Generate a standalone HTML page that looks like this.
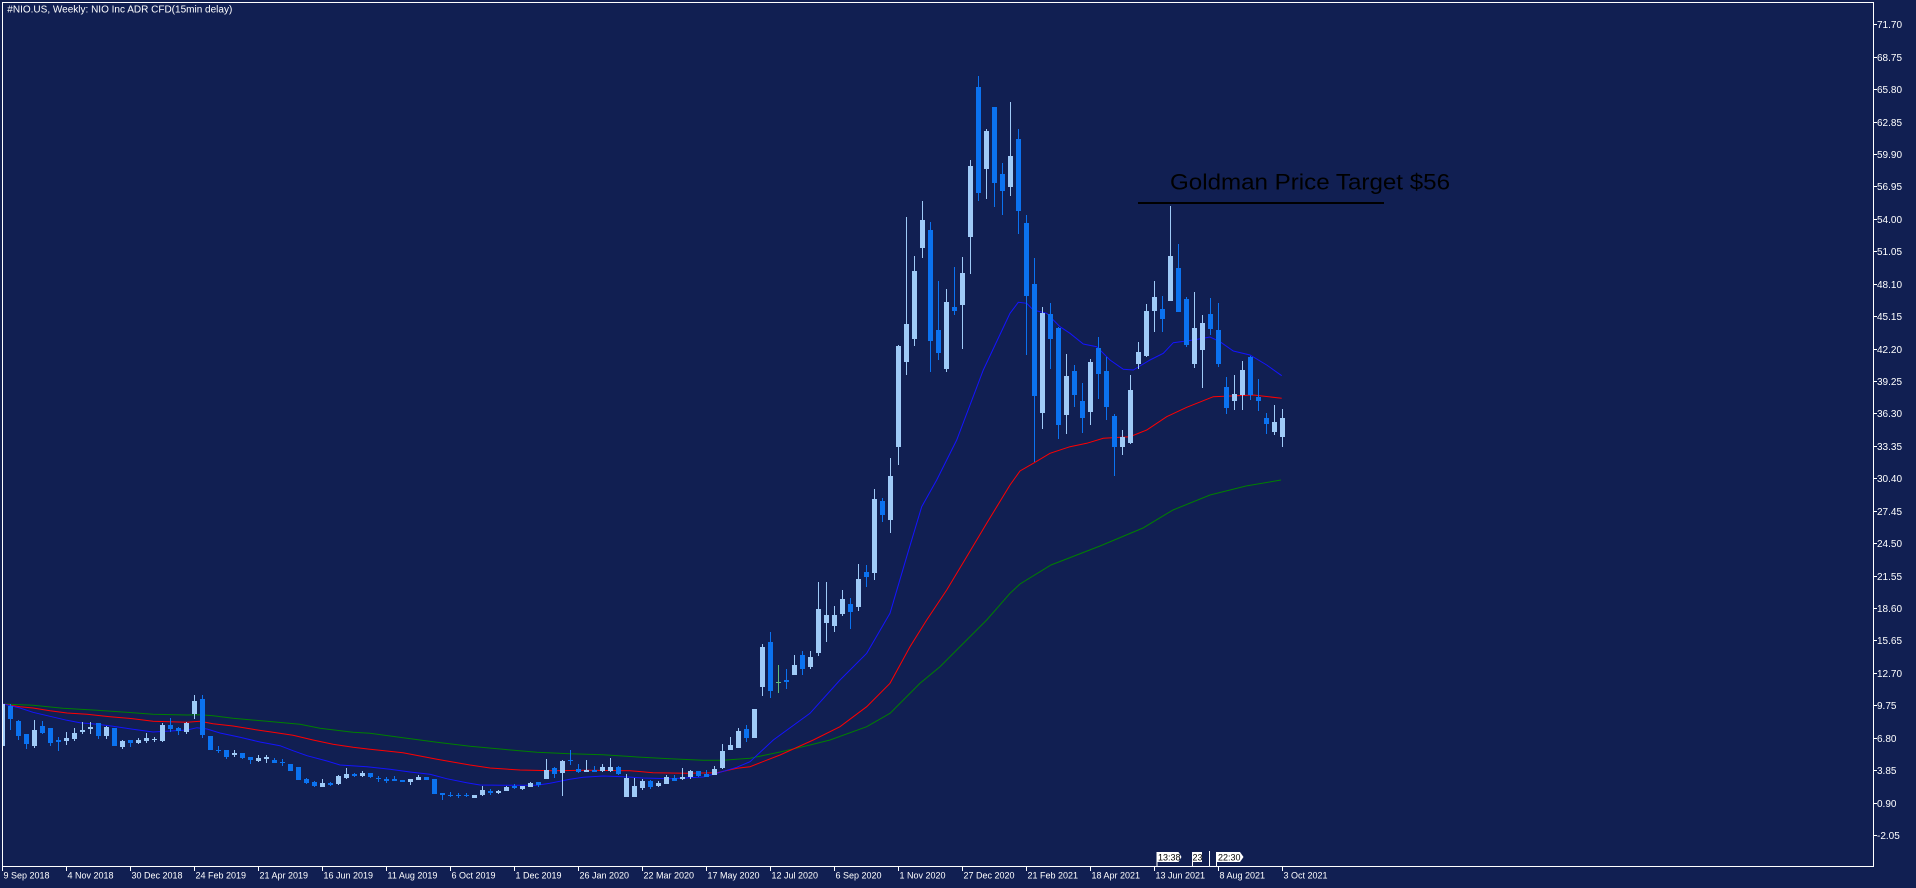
<!DOCTYPE html>
<html><head><meta charset="utf-8"><style>
html,body{margin:0;padding:0;background:#111f52;}
svg{display:block;}
</style></head><body>
<svg width="1916" height="888" viewBox="0 0 1916 888" xmlns="http://www.w3.org/2000/svg">
<defs><clipPath id="pa"><rect x="3" y="3" width="1870" height="863"/></clipPath></defs>
<rect width="1916" height="888" fill="#111f52"/>
<g clip-path="url(#pa)">
<!-- MAs -->
<polyline fill="none" stroke="#008000" stroke-width="1" points="3,704 33,705.3 63,708.3 97,710.3 133,712.7 153,714.3 187,715 200,714.7 213,715.7 233,718.3 267,721.3 300,724.3 320,728.3 353,732.3 370,733.3 403,737.7 437,742.3 470,746.3 503,749.3 537,752.3 570,753.7 603,754.7 637,757 670,758.7 703,760.3 723,760.3 750,758.3 780,752 810,745 830,740 866.7,726.7 890,713.3 920,683.3 940,666.7 966.7,640 986.7,620 1010,593.3 1020,584 1051,565 1100,546 1143,528 1173,510 1210,495 1246,486 1281,480"/>
<polyline fill="none" stroke="#ff0000" stroke-width="1" points="3,704 20,706.7 33,708 50,710.7 67,713 87,714.3 110,716.7 133,718.7 153,721.3 187,722.3 200,721.3 213,723.7 233,726 253,729.3 273,732.3 293,735.3 313,740 333,744.3 353,747.3 370,749.3 403,752.7 437,759.3 470,765 490,768 520,770 553,770.7 587,770.3 630,770.7 653,772.7 687,773.3 717,772.7 737,768.3 750,766.7 780,755 813.3,740 840,726.7 866.7,706.7 890,683.3 910,646.7 926.7,620 946.7,590 966.7,556.7 986.7,523.3 1010,485 1020,471 1033.3,463.3 1050,453.3 1070,446.7 1086.7,443.3 1103.3,438.3 1130,436.7 1146.7,430 1166.7,416.7 1186.7,407.3 1213.3,396.7 1253.3,395 1281.7,398.3"/>
<polyline fill="none" stroke="#1414ff" stroke-width="1" points="3,704 20,708 33,712.3 50,716.3 67,720.3 80,722.7 97,724.3 113,726.3 133,729.3 153,732 187,730 197,727.7 207,729 220,733 240,737.3 260,742 280,745.7 293,750.7 307,755.7 327,761 340,765 367,766.7 390,769.3 410,772 430,774.3 446.7,778.7 466.7,782.7 480,785 503.3,785.3 536.7,785.3 550,783.3 570,779.3 583.3,777.3 603.3,776 623.3,776.7 643.3,778 670,778.7 703.3,777 716.7,773.3 736.7,767.3 750,761.7 773.3,740 810,713.3 840,680 866.7,653.3 890,613.3 906.7,556.7 921.7,506.7 936.7,480 956.7,440 983.3,370 1010,313.3 1018.3,302.3 1026.7,303.3 1033.3,310 1046.7,313.3 1060,326.7 1070,333.3 1083.3,344 1096.7,346.7 1110,360 1123.3,369.3 1133.3,370 1150,360 1163.3,353.3 1173.3,342.7 1193.3,340 1210,337 1220,341.7 1233.3,351 1250,355 1266.7,365 1281.7,375.7"/>
<!-- bull wicks -->
<path fill="none" stroke="#9fcaf7" stroke-width="1" d="M34.5 720V748M66.5 732V745M74.5 728V741M82.5 722V734M90.5 722V734M106.5 726V739M122.5 740V749M138.5 738V744M146.5 733V743M154.5 737V742M162.5 723V742M186.5 722V734M194.5 695V719M234.5 750V757M258.5 755V762M266.5 755V763M322.5 779V787M338.5 775V785M346.5 768V779M362.5 771V777M410.5 779V785M418.5 775V780M482.5 786V796M498.5 790V794M506.5 786V791M522.5 786V790M530.5 782V787M546.5 759V779M562.5 760V796M586.5 760V772M602.5 764V772M610.5 758V772M626.5 774V797M634.5 778V797M642.5 779V790M658.5 781V787M666.5 775V784M682.5 768V780M690.5 770V779M714.5 766V775M722.5 744V769M730.5 737V750M738.5 728V748M762.5 644V696M794.5 655V675M810.5 651V669M818.5 582V656M826.5 582V642M834.5 606V632M842.5 590V616M858.5 564V611M874.5 489V580M890.5 458V533M898.5 345V465M906.5 217V375M914.5 256V346M922.5 201V258M946.5 289V372M962.5 257V349M970.5 160V274M986.5 129V199M1010.5 102V196M1042.5 307V429M1066.5 354V434M1090.5 359V425M1122.5 430V455M1130.5 375V444M1138.5 342V369M1146.5 304V357M1154.5 281V332M1170.5 206V301M1194.5 292V368M1202.5 315V388M1234.5 375V410M1242.5 361V410M1274.5 405V435M1282.5 409V447"/>
<!-- bull bodies -->
<path fill="#9fcaf7" d="M0 704h5v42h-5zM32 730h5v16h-5zM64 738h5v3h-5zM72 733h5v6h-5zM80 730h5v2h-5zM88 727h5v2h-5zM104 727h5v9h-5zM120 741h5v6h-5zM136 740h5v3h-5zM144 738h5v3h-5zM152 739h5v1h-5zM160 725h5v16h-5zM184 723h5v9h-5zM192 701h5v13h-5zM232 753h5v2h-5zM256 758h5v3h-5zM264 757h5v2h-5zM320 783h5v4h-5zM336 776h5v8h-5zM344 774h5v4h-5zM360 773h5v3h-5zM408 779h5v3h-5zM416 777h5v3h-5zM472 795h5v3h-5zM480 790h5v5h-5zM496 791h5v2h-5zM504 787h5v4h-5zM520 786h5v3h-5zM528 783h5v4h-5zM544 770h5v9h-5zM560 761h5v12h-5zM584 770h5v2h-5zM600 767h5v4h-5zM608 767h5v4h-5zM624 778h5v19h-5zM632 786h5v11h-5zM640 781h5v7h-5zM656 783h5v3h-5zM664 777h5v7h-5zM680 777h5v2h-5zM688 771h5v6h-5zM712 769h5v6h-5zM720 751h5v17h-5zM728 745h5v5h-5zM736 731h5v17h-5zM752 709h5v29h-5zM760 647h5v40h-5zM792 665h5v10h-5zM808 657h5v10h-5zM816 609h5v44h-5zM824 615h5v8h-5zM832 615h5v11h-5zM840 599h5v15h-5zM856 579h5v28h-5zM872 499h5v74h-5zM888 476h5v44h-5zM896 346h5v101h-5zM904 324h5v38h-5zM912 271h5v68h-5zM920 220h5v28h-5zM944 302h5v67h-5zM960 273h5v32h-5zM968 166h5v71h-5zM984 131h5v38h-5zM1008 156h5v31h-5zM1040 313h5v100h-5zM1064 376h5v39h-5zM1088 362h5v50h-5zM1120 437h5v10h-5zM1128 390h5v53h-5zM1136 352h5v12h-5zM1144 311h5v45h-5zM1152 297h5v14h-5zM1168 256h5v45h-5zM1192 328h5v36h-5zM1200 323h5v27h-5zM1232 394h5v7h-5zM1240 370h5v25h-5zM1272 422h5v10h-5zM1280 418h5v19h-5z"/>
<!-- bear wicks -->
<path fill="none" stroke="#0b72f0" stroke-width="1" d="M10.5 704V730M18.5 720V740M26.5 734V749M42.5 721V734M50.5 728V746M58.5 737V751M98.5 723V739M130.5 740V747M170.5 718V732M178.5 727V735M202.5 695V738M218.5 746V753M226.5 750V759M242.5 753V759M250.5 757V764M274.5 758V763M282.5 759V766M306.5 778V784M314.5 781V787M330.5 782V786M354.5 773V777M370.5 773V778M378.5 776V782M386.5 777V783M394.5 776V781M442.5 793V800M450.5 792V797M458.5 793V798M466.5 793V797M490.5 789V795M514.5 784V789M538.5 782V787M554.5 767V778M570.5 750V765M578.5 764V773M594.5 766V772M618.5 766V775M650.5 780V789M674.5 775V781M698.5 771V777M706.5 770V777M746.5 725V742M770.5 632V698M786.5 669V689M802.5 651V675M850.5 598V629M866.5 565V587M882.5 498V522M930.5 222V372M938.5 281V360M954.5 267V315M978.5 76V201M994.5 107V207M1002.5 163V215M1018.5 129V234M1026.5 215V355M1034.5 258V462M1050.5 303V369M1058.5 327V439M1074.5 365V407M1082.5 383V433M1098.5 337V399M1106.5 357V420M1114.5 414V476M1162.5 296V332M1178.5 244V312M1186.5 297V347M1210.5 298V335M1218.5 303V367M1226.5 377V414M1250.5 356V400M1258.5 379V411M1266.5 413V434"/>
<!-- bear bodies -->
<path fill="#0b72f0" d="M8 706h5v13h-5zM16 721h5v15h-5zM24 734h5v10h-5zM40 726h5v7h-5zM48 728h5v15h-5zM56 740h5v2h-5zM96 723h5v13h-5zM112 728h5v18h-5zM128 740h5v3h-5zM168 725h5v4h-5zM176 728h5v3h-5zM200 699h5v36h-5zM208 736h5v14h-5zM216 750h5v1h-5zM224 750h5v7h-5zM240 753h5v5h-5zM248 757h5v3h-5zM272 760h5v3h-5zM280 762h5v1h-5zM288 764h5v7h-5zM296 767h5v13h-5zM304 779h5v4h-5zM312 782h5v4h-5zM328 783h5v2h-5zM352 774h5v2h-5zM368 773h5v4h-5zM376 778h5v1h-5zM384 779h5v2h-5zM392 779h5v2h-5zM400 780h5v2h-5zM424 777h5v3h-5zM432 779h5v15h-5zM440 793h5v2h-5zM448 795h5v1h-5zM456 795h5v1h-5zM464 795h5v1h-5zM488 791h5v2h-5zM512 786h5v2h-5zM536 782h5v3h-5zM552 768h5v6h-5zM568 760h5v1h-5zM576 769h5v3h-5zM592 770h5v2h-5zM616 767h5v7h-5zM648 781h5v6h-5zM672 778h5v3h-5zM696 771h5v5h-5zM704 774h5v3h-5zM744 729h5v9h-5zM768 642h5v49h-5zM784 680h5v2h-5zM800 655h5v14h-5zM848 604h5v8h-5zM864 572h5v5h-5zM880 501h5v14h-5zM928 230h5v111h-5zM936 330h5v23h-5zM952 307h5v4h-5zM976 87h5v106h-5zM992 107h5v76h-5zM1000 174h5v17h-5zM1016 139h5v72h-5zM1024 223h5v73h-5zM1032 284h5v112h-5zM1048 314h5v25h-5zM1056 328h5v97h-5zM1072 371h5v24h-5zM1080 401h5v17h-5zM1096 348h5v26h-5zM1104 371h5v36h-5zM1112 416h5v31h-5zM1160 309h5v10h-5zM1176 268h5v44h-5zM1184 299h5v46h-5zM1208 314h5v15h-5zM1216 330h5v34h-5zM1224 387h5v21h-5zM1248 357h5v38h-5zM1256 397h5v4h-5zM1264 418h5v6h-5z"/>
<!-- doji -->
<path fill="none" stroke="#5dbb7e" stroke-width="1" d="M778.5 665V693"/>
<path fill="#5dbb7e" d="M776 682h5v1h-5z"/>
<!-- annotation -->
<rect x="1138" y="202" width="246" height="2" fill="#000"/>
<text x="1170" y="189.3" font-family="Liberation Sans, Arial, sans-serif" font-size="22" fill="#000" textLength="280" lengthAdjust="spacingAndGlyphs">Goldman Price Target $56</text>
</g>
<!-- frame -->
<rect x="2.5" y="2.5" width="1871" height="864" fill="none" stroke="#ffffff" stroke-width="1"/>
<text x="7.3" y="12.7" font-family="Liberation Sans, Arial, sans-serif" font-size="10" fill="#ffffff" textLength="225" lengthAdjust="spacingAndGlyphs">#NIO.US, Weekly:  NIO Inc ADR CFD(15min delay)</text>
<!-- y ticks -->
<path fill="none" stroke="#ffffff" stroke-width="1" d="M1873 24.5h4M1873 57.5h4M1873 89.5h4M1873 122.5h4M1873 154.5h4M1873 186.5h4M1873 219.5h4M1873 251.5h4M1873 284.5h4M1873 316.5h4M1873 349.5h4M1873 381.5h4M1873 413.5h4M1873 446.5h4M1873 478.5h4M1873 511.5h4M1873 543.5h4M1873 576.5h4M1873 608.5h4M1873 640.5h4M1873 673.5h4M1873 705.5h4M1873 738.5h4M1873 770.5h4M1873 803.5h4M1873 835.5h4"/>
<g font-family="Liberation Sans, Arial, sans-serif" font-size="10" fill="#ffffff">
<text x="1877" y="28">71.70</text>
<text x="1877" y="61">68.75</text>
<text x="1877" y="93">65.80</text>
<text x="1877" y="126">62.85</text>
<text x="1877" y="158">59.90</text>
<text x="1877" y="190">56.95</text>
<text x="1877" y="223">54.00</text>
<text x="1877" y="255">51.05</text>
<text x="1877" y="288">48.10</text>
<text x="1877" y="320">45.15</text>
<text x="1877" y="353">42.20</text>
<text x="1877" y="385">39.25</text>
<text x="1877" y="417">36.30</text>
<text x="1877" y="450">33.35</text>
<text x="1877" y="482">30.40</text>
<text x="1877" y="515">27.45</text>
<text x="1877" y="547">24.50</text>
<text x="1877" y="580">21.55</text>
<text x="1877" y="612">18.60</text>
<text x="1877" y="644">15.65</text>
<text x="1877" y="677">12.70</text>
<text x="1877" y="709">9.75</text>
<text x="1877" y="742">6.80</text>
<text x="1877" y="774">3.85</text>
<text x="1877" y="807">0.90</text>
<text x="1877" y="839">-2.05</text>
</g>
<!-- x ticks -->
<path fill="none" stroke="#ffffff" stroke-width="1" d="M2.5 866v5M66.5 866v5M130.5 866v5M194.5 866v5M258.5 866v5M322.5 866v5M386.5 866v5M450.5 866v5M514.5 866v5M578.5 866v5M642.5 866v5M706.5 866v5M770.5 866v5M834.5 866v5M898.5 866v5M962.5 866v5M1026.5 866v5M1090.5 866v5M1154.5 866v5M1218.5 866v5M1282.5 866v5"/>
<g font-family="Liberation Sans, Arial, sans-serif" font-size="9" fill="#ffffff">
<text x="3.5" y="878.5">9 Sep 2018</text>
<text x="67.5" y="878.5">4 Nov 2018</text>
<text x="131.5" y="878.5">30 Dec 2018</text>
<text x="195.5" y="878.5">24 Feb 2019</text>
<text x="259.5" y="878.5">21 Apr 2019</text>
<text x="323.5" y="878.5">16 Jun 2019</text>
<text x="387.5" y="878.5">11 Aug 2019</text>
<text x="451.5" y="878.5">6 Oct 2019</text>
<text x="515.5" y="878.5">1 Dec 2019</text>
<text x="579.5" y="878.5">26 Jan 2020</text>
<text x="643.5" y="878.5">22 Mar 2020</text>
<text x="707.5" y="878.5">17 May 2020</text>
<text x="771.5" y="878.5">12 Jul 2020</text>
<text x="835.5" y="878.5">6 Sep 2020</text>
<text x="899.5" y="878.5">1 Nov 2020</text>
<text x="963.5" y="878.5">27 Dec 2020</text>
<text x="1027.5" y="878.5">21 Feb 2021</text>
<text x="1091.5" y="878.5">18 Apr 2021</text>
<text x="1155.5" y="878.5">13 Jun 2021</text>
<text x="1219.5" y="878.5">8 Aug 2021</text>
<text x="1283.5" y="878.5">3 Oct 2021</text>
</g>
<!-- time markers -->
<path fill="#ffffff" d="M1156.5 852h22l3 5l-3 5h-22z"/>
<rect x="1156.5" y="862" width="1" height="5" fill="#ffffff"/>
<text x="1158" y="860.5" font-family="Liberation Sans, Arial, sans-serif" font-size="9" fill="#000">13:38</text>
<rect x="1192" y="852" width="10" height="10" fill="#ffffff"/>
<rect x="1192" y="862" width="1" height="5" fill="#ffffff"/>
<text x="1192.5" y="860.5" font-family="Liberation Sans, Arial, sans-serif" font-size="9" fill="#000">23</text>
<rect x="1209" y="851" width="1" height="16" fill="#ffffff"/>
<path fill="#ffffff" d="M1216 852h24l3.5 5l-3.5 5h-24z"/>
<rect x="1216" y="862" width="1" height="5" fill="#ffffff"/>
<text x="1218" y="860.5" font-family="Liberation Sans, Arial, sans-serif" font-size="9" fill="#000">22:30</text>
</svg>
</body></html>
